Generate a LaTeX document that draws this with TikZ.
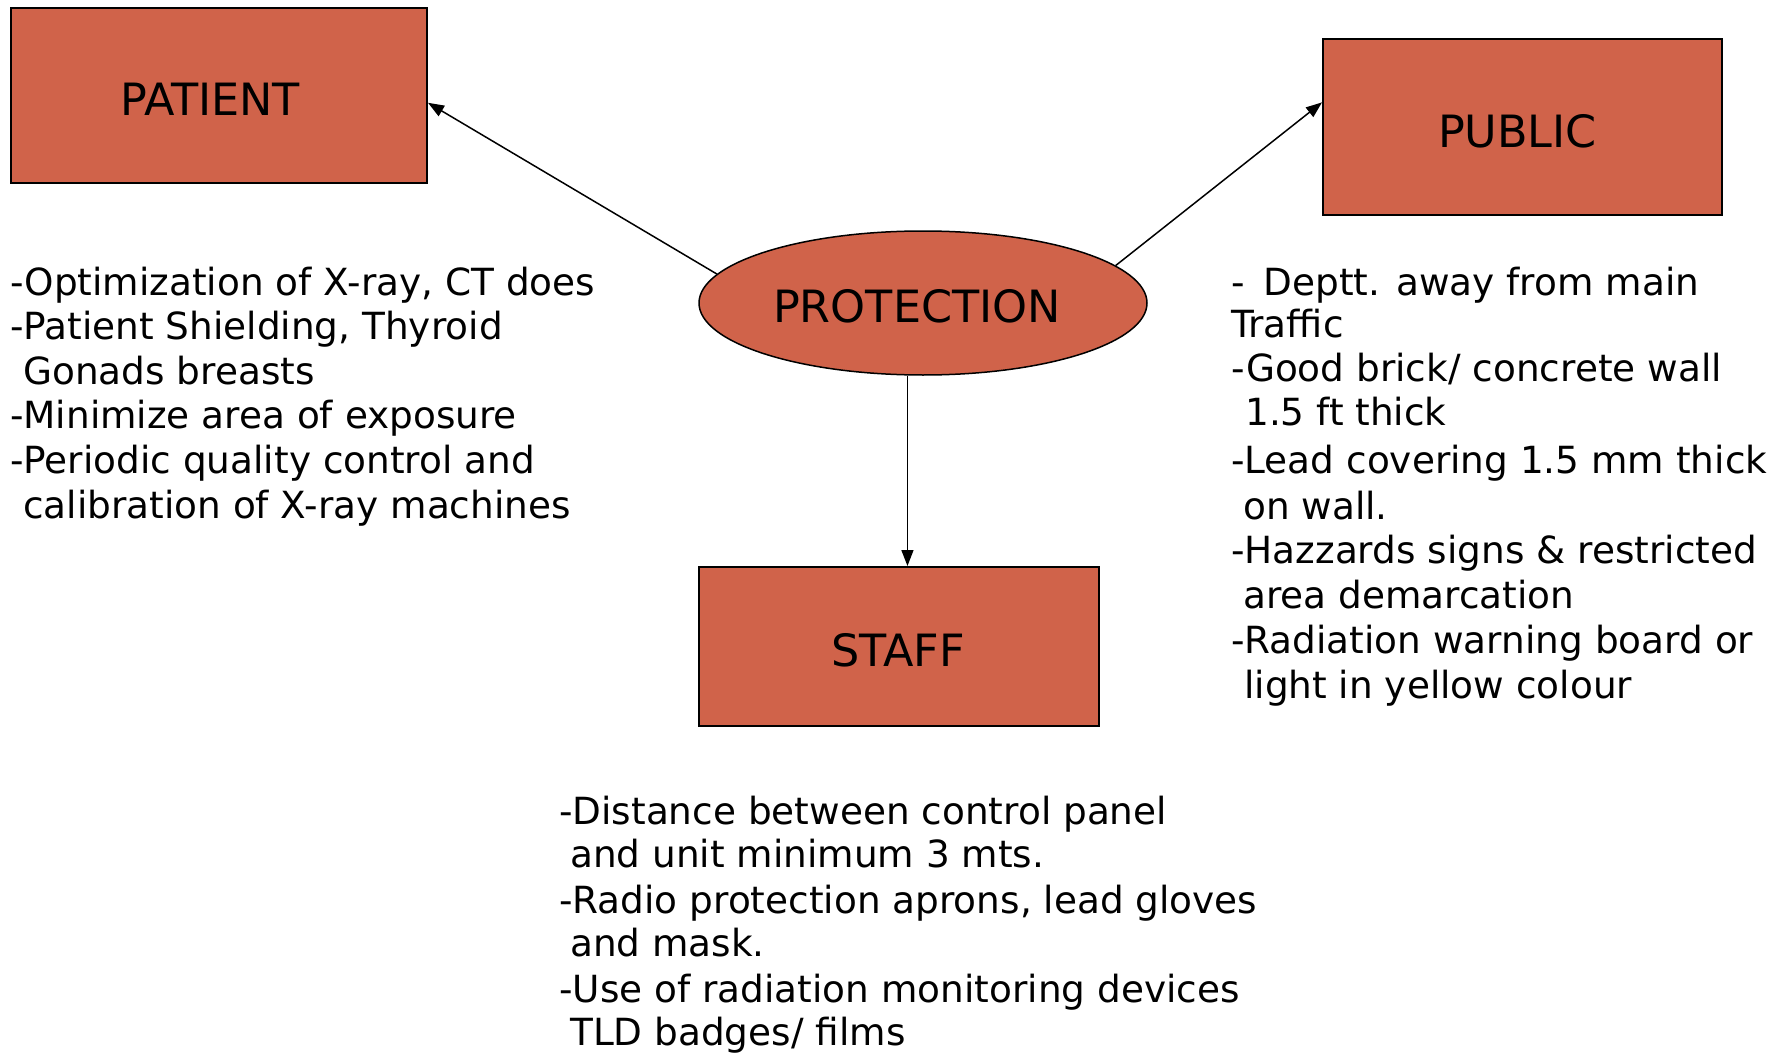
\documentclass[tikz,border=0pt]{standalone}
\usepackage{fontspec}
\setmainfont{DejaVu Sans}
\usetikzlibrary{arrows.meta,shapes.geometric}
\definecolor{boxfill}{RGB}{208,99,74}
\newcommand{\lbltext}[2]{#2\hspace*{#1}}
\begin{document}
\begin{tikzpicture}[x=1pt,y=-1pt,
  box/.style={draw=black, line width=2pt, fill=boxfill, inner sep=0pt, text height=40pt, text depth=0pt, font=\fontsize{44.5}{50}\selectfont},
  oval/.style={ellipse, draw=black, line width=1.5pt, fill=boxfill, inner sep=0pt, text height=38pt, text depth=0pt, font=\fontsize{44.5}{50}\selectfont},
  arr/.style={line width=1.5pt, -{Triangle[length=16pt,width=12pt]}},
  txt/.style={anchor=base west, inner sep=0pt, font=\fontsize{37.4}{44}\selectfont}]
\useasboundingbox[fill=white] (0,0) rectangle (1791,1054);

\node[box, minimum width=416pt, minimum height=175pt] (patient) at (219,95.5) {\lbltext{18pt}{PATIENT}};
\node[box, minimum width=399pt, minimum height=176pt] (public) at (1522.5,127) {\lbltext{10pt}{PUBLIC}};
\node[oval, minimum width=448pt, minimum height=144pt] (prot) at (923,303) {\lbltext{12pt}{PROTECTION}};
\node[box, minimum width=400pt, minimum height=159pt] (staff) at (899,646.5) {\lbltext{2pt}{STAFF}};

\draw[arr] (prot.172.7) -- (patient.-2.6);
\draw[arr] (prot.11.5) -- (public.173.7);
\draw[arr] (staff.84.3 |- prot.south) -- (staff.84.3);

% patient text
\node[txt] (l1) at (10,295) {-Optimization of X-ray, CT does};
\node[txt] (l2) at (10,339) {-Patient Shielding, Thyroid};
\node[txt] (l3) at (23,384) {Gonads breasts};
\node[txt] (l4) at (10,428) {-Minimize area of exposure};
\node[txt] (l5) at (10,473) {-Periodic quality control and};
\node[txt] (l6) at (23,518) {calibration of X-ray machines};

% public text
\node[txt] (r1) at (1231,295) {-\hspace{19pt}Deptt. away from main};
\node[txt] (r2) at (1231,337) {Traffic};
\node[txt] (r3) at (1231,381) {-Good brick/ concrete wall};
\node[txt] (r4) at (1245,425) {1.5 ft thick};
\node[txt] (r5) at (1231,473) {-Lead covering 1.5 mm thick};
\node[txt] (r6) at (1243,519) {on wall.};
\node[txt] (r7) at (1231,563) {-Hazzards signs \& restricted};
\node[txt] (r8) at (1243,608) {area demarcation};
\node[txt] (r9) at (1231,653) {-Radiation warning board or};
\node[txt] (r10) at (1244,698) {light in yellow colour};

% staff text
\node[txt] (s1) at (559,824) {-Distance between control panel};
\node[txt] (s2) at (570,867) {and unit minimum 3 mts.};
\node[txt] (s3) at (559,913) {-Radio protection aprons, lead gloves};
\node[txt] (s4) at (570,956) {and mask.};
\node[txt] (s5) at (559,1002) {-Use of radiation monitoring devices};
\node[txt] (s6) at (570,1045) {TLD badges/ films};
\end{tikzpicture}
\end{document}
